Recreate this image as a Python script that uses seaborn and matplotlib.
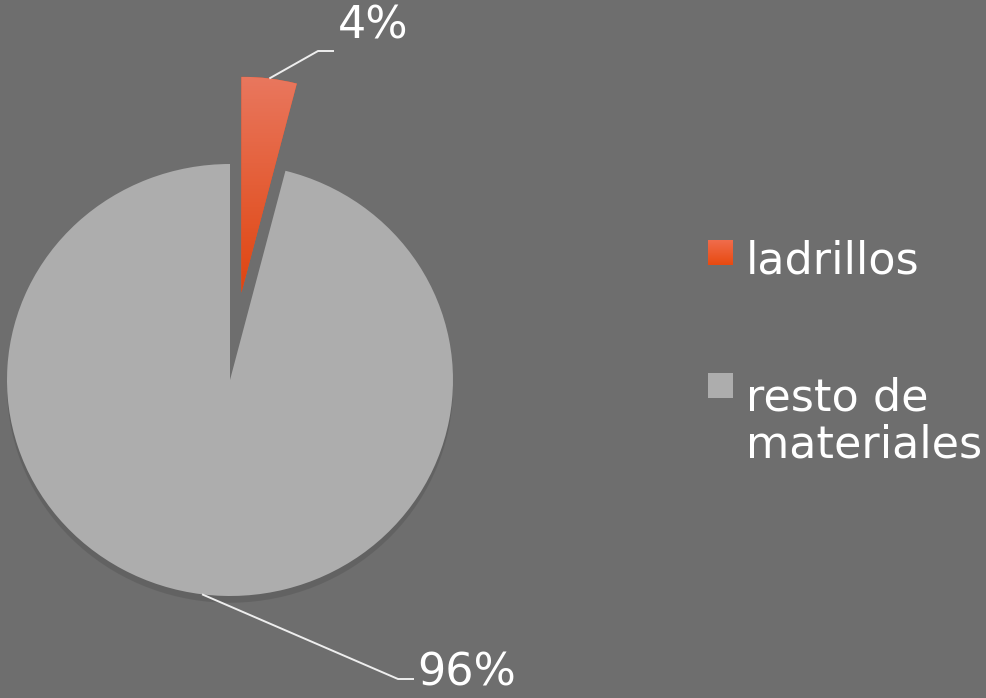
import numpy as np
import matplotlib
matplotlib.use("Agg")
import matplotlib.pyplot as plt
import seaborn as sns
from matplotlib.patches import Shadow, Rectangle
from matplotlib.colors import LinearSegmentedColormap

# Data
categories = ["ladrillos", "resto de\nmateriales"]
shares = [4, 96]
pct_labels = ["4%", "96%"]
colors = ["#e8552a", "#adadad"]

BG = "#6e6e6e"
TEXT = "#ffffff"
LINE = "#eeeeee"

sns.set_theme(style="white")
plt.rcParams["font.family"] = ["DejaVu Sans"]

W, H = 987, 698
# slight vertical squash of the pie (tilted look)
K = 223 / 216


def py(y_top):
    """Convert a pixel row measured from the top into data y."""
    return (H - y_top) * K


fig = plt.figure(figsize=(W / 100, H / 100), dpi=100, facecolor=BG)
ax = fig.add_axes([0, 0, 1, 1])
ax.set_facecolor(BG)

center = (230, py(380))
R = 223
explode = [0.407 * R, 0]
wedges, _ = ax.pie(shares, colors=colors, startangle=90, counterclock=False,
                   explode=explode, radius=R, center=center,
                   wedgeprops=dict(linewidth=0))

# Drop shadow under the large slice
sh = Shadow(wedges[1], 0, -5, shade=0.5, zorder=wedges[1].get_zorder() - 0.5)
ax.add_patch(sh)

# Vertical gradient fill on the highlighted slice
red_cmap = LinearSegmentedColormap.from_list("red", ["#df4510", "#e9775e"])
rw = wedges[0]
cx, cy = rw.center
grad = np.linspace(0, 1, 256).reshape(-1, 1)
im = ax.imshow(grad, cmap=red_cmap, origin="lower", aspect="auto",
               extent=[cx - R, cx + R, cy, cy + R], zorder=rw.get_zorder() + 0.1)
im.set_clip_path(rw)

# Leader lines and percentage labels
elbows = [(318, py(51)), (398, py(679))]
text_pos = [(338, py(26)), (417, py(673))]
for w, lab, (ex, ey), (tx, ty) in zip(wedges, pct_labels, elbows, text_pos):
    th = np.deg2rad((w.theta1 + w.theta2) / 2)
    sx = w.center[0] + w.r * np.cos(th)
    sy = w.center[1] + w.r * np.sin(th)
    ax.plot([sx, ex, ex + 16], [sy, ey, ey], color=LINE, lw=1.4,
            solid_capstyle="butt", zorder=5)
    ax.text(tx, ty, lab, color=TEXT, fontsize=32, ha="left", va="center", zorder=6)

# Legend
leg_sq = [(708, 240), (708, 373)]
leg_base = [273, 458]  # baseline of the last line of each label
leg_cmaps = [LinearSegmentedColormap.from_list("lr", ["#e84a10", "#f06c4c"]), None]
for cat, col, (qx, qtop), lb, cm in zip(categories, colors, leg_sq, leg_base, leg_cmaps):
    y0, y1 = py(qtop + 25), py(qtop)
    sq = Rectangle((qx, y0), 25, y1 - y0, facecolor=col if cm is None else "#ea5425",
                   edgecolor="none", zorder=5)
    ax.add_patch(sq)
    if cm is not None:
        g = ax.imshow(grad, cmap=cm, origin="lower", aspect="auto",
                      extent=[qx, qx + 25, y0, y1], zorder=5.1)
        g.set_clip_path(sq)
    ax.text(746, py(lb), cat, color=TEXT, fontsize=32, ha="left", va="baseline",
            linespacing=1.13, zorder=6)

ax.set_xlim(0, W)
ax.set_ylim(0, H * K)
ax.set_aspect("auto")
ax.axis("off")

fig.savefig("out.png", dpi=100, facecolor=BG)
